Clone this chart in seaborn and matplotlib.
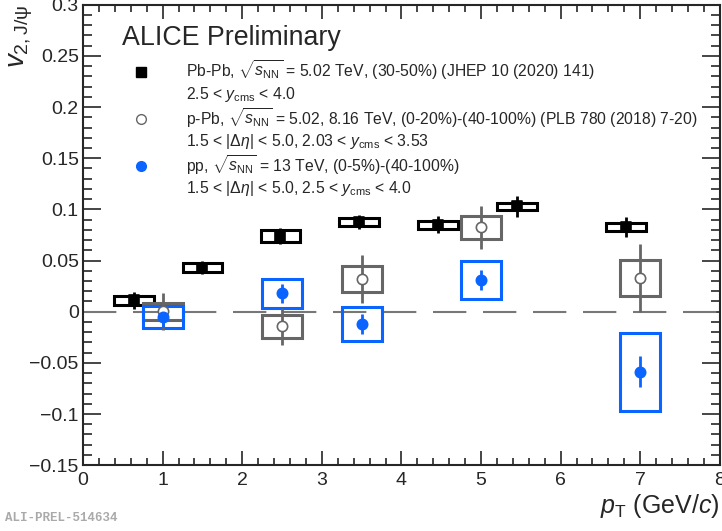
import numpy as np
import pandas as pd
import seaborn as sns
import matplotlib.pyplot as plt
from matplotlib.patches import Rectangle
from matplotlib.lines import Line2D
from matplotlib.ticker import MultipleLocator

# Pb-Pb 5.02 TeV (30-50%)
pbpb_pt = [0.64, 1.50, 2.48, 3.47, 4.46, 5.45, 6.82]
pbpb_v2 = [0.011, 0.043, 0.074, 0.088, 0.085, 0.103, 0.083]
pbpb_stat = [0.008, 0.0065, 0.0075, 0.007, 0.0085, 0.010, 0.010]
pbpb_syst = [0.0045, 0.0045, 0.0055, 0.004, 0.004, 0.0035, 0.004]

# p-Pb 5.02, 8.16 TeV
ppb_pt = [1.0, 2.5, 3.5, 5.0, 7.0]
ppb_v2 = [0.0003, -0.0143, 0.032, 0.0824, 0.033]
ppb_stat = [0.018, 0.018, 0.0235, 0.021, 0.033]
ppb_syst = [0.0085, 0.011, 0.013, 0.011, 0.0175]

# pp 13 TeV
pp_pt = [1.0, 2.5, 3.5, 5.0, 7.0]
pp_v2 = [-0.005, 0.018, -0.012, 0.031, -0.0587]
pp_stat = [0.010, 0.0095, 0.010, 0.0098, 0.015]
pp_syst = [0.0105, 0.014, 0.017, 0.019, 0.038]

box_hw = 0.25

sns.set_style("ticks")
plt.rcParams['font.family'] = ['Liberation Sans', 'DejaVu Sans']
plt.rcParams['mathtext.fontset'] = 'custom'
plt.rcParams['mathtext.rm'] = 'Liberation Sans'
plt.rcParams['mathtext.it'] = 'Liberation Sans:italic'
plt.rcParams['mathtext.bf'] = 'Liberation Sans:bold'

fig = plt.figure(figsize=(7.22, 5.31), dpi=100)
ax = fig.add_axes([0.115, 0.124, 0.882, 0.867])

ax.axhline(0, color='#777777', lw=1.5, ls=(0, (16, 8)), zorder=1)

series = [
    (pbpb_pt, pbpb_v2, pbpb_stat, pbpb_syst, 'black', 's', 'black', 60),
    (ppb_pt, ppb_v2, ppb_stat, ppb_syst, '#666666', 'o', 'white', 55),
    (pp_pt, pp_v2, pp_stat, pp_syst, '#0a64ff', 'o', '#0a64ff', 55),
]

for pt, v2, stat, syst, col, mk, face, size in series:
    for x, y, s in zip(pt, v2, syst):
        ax.add_patch(Rectangle((x - box_hw, y - s), 2 * box_hw, 2 * s,
                               fill=False, ec=col, lw=2.2, zorder=2))
    ax.errorbar(pt, v2, yerr=stat, fmt='none', ecolor=col, elinewidth=2,
                capsize=0, zorder=3)
    df = pd.DataFrame({'pt': pt, 'v2': v2})
    sns.scatterplot(data=df, x='pt', y='v2', marker=mk, color=face,
                    edgecolor=col, linewidth=1.2, s=size, ax=ax, zorder=4)

ax.set_xlim(0, 8)
ax.set_ylim(-0.15, 0.3)
ax.xaxis.set_major_locator(MultipleLocator(1))
ax.xaxis.set_minor_locator(MultipleLocator(0.2))
ax.yaxis.set_minor_locator(MultipleLocator(0.01))
ax.set_yticks(np.arange(-0.15, 0.301, 0.05))
ax.set_yticklabels(['\u22120.15', '\u22120.1', '\u22120.05', '0', '0.05',
                    '0.1', '0.15', '0.2', '0.25', '0.3'])
ax.tick_params(which='both', direction='in', top=True, right=True,
               labelsize=14, width=1.2)
ax.tick_params(axis='y', which='major', length=13, pad=3)
ax.tick_params(axis='y', which='minor', length=6.5)
ax.tick_params(axis='x', which='major', length=10, pad=5)
ax.tick_params(axis='x', which='minor', length=5)
for sp in ax.spines.values():
    sp.set_linewidth(1.5)

ax.set_xlabel(r'$p_{\rm T}$ (GeV/$c$)', fontsize=18, loc='right', labelpad=2)
ax.set_ylabel(r'$v_{2,\rm J/\psi}$', fontsize=20, loc='top', labelpad=-4)

ax.text(0.061, 0.928, 'ALICE Preliminary', transform=ax.transAxes,
        fontsize=19.3, va='center')

handles = [
    Line2D([], [], ls='none', marker='s', color='black', ms=7),
    Line2D([], [], ls='none'),
    Line2D([], [], ls='none', marker='o', mfc='white', mec='#666666', ms=7),
    Line2D([], [], ls='none'),
    Line2D([], [], ls='none', marker='o', color='#0a64ff', ms=7),
    Line2D([], [], ls='none'),
]
labels = [
    r'Pb-Pb, $\sqrt{s_{\rm NN}}$ = 5.02 TeV, (30-50%) (JHEP 10 (2020) 141)',
    r'2.5 < $y_{\rm cms}$ < 4.0',
    r'p-Pb, $\sqrt{s_{\rm NN}}$ = 5.02, 8.16 TeV, (0-20%)-(40-100%) (PLB 780 (2018) 7-20)',
    r'1.5 < |$\Delta\eta$| < 5.0, 2.03 < $y_{\rm cms}$ < 3.53',
    r'pp, $\sqrt{s_{\rm NN}}$ = 13 TeV, (0-5%)-(40-100%)',
    r'1.5 < |$\Delta\eta$| < 5.0, 2.5 < $y_{\rm cms}$ < 4.0',
]
ax.legend(handles, labels, loc='upper left', bbox_to_anchor=(0.048, 0.899),
          frameon=False, fontsize=11.3, handlelength=2.5, handletextpad=1.6,
          labelspacing=0.16, borderpad=0)

fig.text(0.007, 0.025, 'ALI-PREL-514634', family='Liberation Mono',
         weight='bold', color='#aaaaaa', fontsize=9, va='center')

fig.savefig('out.png', dpi=100)
